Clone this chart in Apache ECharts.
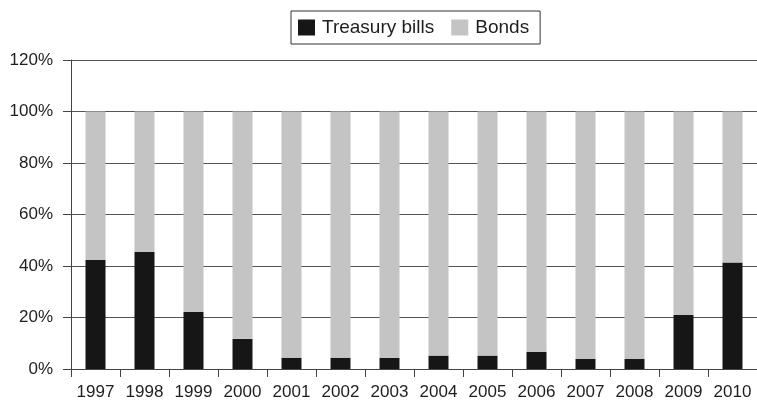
<!DOCTYPE html>
<html>
<head>
<meta charset="utf-8">
<style>
  html, body { margin: 0; padding: 0; background: #fff; }
  #chart { width: 757px; height: 401px; }
</style>
<script src="https://cdn.jsdelivr.net/npm/echarts@6/dist/echarts.min.js"></script>
</head>
<body>
<div id="chart"></div>
<script>
// Share of treasury bills vs bonds per year (percent of total)
const years = ['1997', '1998', '1999', '2000', '2001', '2002', '2003',
               '2004', '2005', '2006', '2007', '2008', '2009', '2010'];
const treasuryBills = [42.4, 45.5, 22.2, 11.7, 4.4, 4.4, 4.3, 5.2, 5.2, 6.7, 3.9, 3.9, 21.0, 41.4];
const bonds = [57.6, 54.5, 77.8, 88.3, 95.6, 95.6, 95.7, 94.8, 94.8, 93.3, 96.1, 96.1, 79.0, 58.6];
const yTicks = { min: 0, max: 120, step: 20 };

const FONT = '"Liberation Sans", Arial, Helvetica, sans-serif';
const TEXT = '#1e1e1e';
const LINE = '#444';

const chart = echarts.init(document.getElementById('chart'), null, { renderer: 'canvas' });

chart.setOption({
  animation: false,
  backgroundColor: '#fff',
  textStyle: { fontFamily: FONT, color: TEXT },
  legend: {
    left: 291,
    top: 11,
    padding: [7, 11, 7, 7],
    borderColor: '#333',
    borderWidth: 1,
    itemWidth: 17,
    itemHeight: 16,
    itemGap: 17,
    icon: 'rect',
    textStyle: { fontFamily: FONT, fontSize: 19, color: TEXT, padding: [0, 0, 0, 2] },
    data: ['Treasury bills', 'Bonds']
  },
  grid: { left: 71, right: 0, top: 60, bottom: 31, containLabel: false },
  xAxis: {
    type: 'category',
    data: years,
    boundaryGap: true,
    axisLine: { lineStyle: { color: LINE, width: 1 } },
    axisTick: { show: true, length: 8, inside: false, alignWithLabel: false, lineStyle: { color: LINE } },
    axisLabel: { fontFamily: FONT, fontSize: 17, color: TEXT, margin: 15, interval: 0 },
    splitLine: { show: false }
  },
  yAxis: {
    type: 'value',
    min: yTicks.min,
    max: yTicks.max,
    interval: yTicks.step,
    axisLine: { show: true, lineStyle: { color: LINE, width: 1 } },
    axisTick: { show: true, length: 8, lineStyle: { color: LINE } },
    axisLabel: { fontFamily: FONT, fontSize: 17, color: TEXT, margin: 18, formatter: '{value}%' },
    splitLine: { show: true, lineStyle: { color: '#555', width: 1 } }
  },
  series: [
    {
      name: 'Treasury bills',
      type: 'bar',
      stack: 'total',
      barWidth: 20,
      itemStyle: { color: '#161616' },
      data: treasuryBills
    },
    {
      name: 'Bonds',
      type: 'bar',
      stack: 'total',
      barWidth: 20,
      itemStyle: { color: '#c3c4c3' },
      data: bonds
    }
  ]
});
</script>
</body>
</html>
